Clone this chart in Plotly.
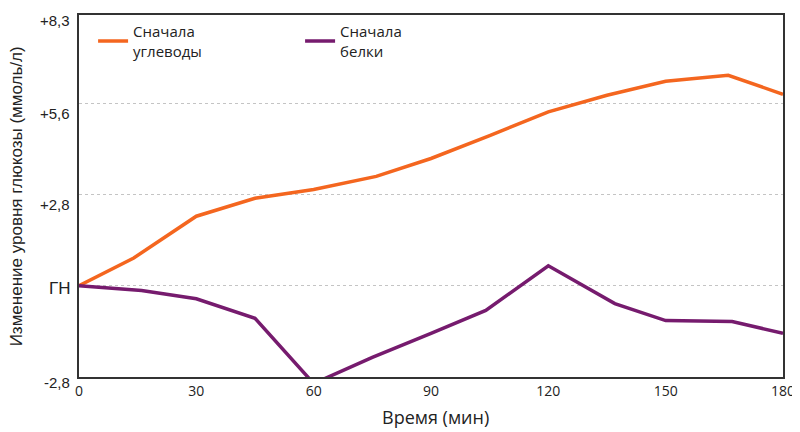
import plotly.graph_objects as go

# ---- data ----
carb_x = [0, 14, 30, 45, 60, 76, 90, 105, 120, 135, 150, 166, 180]
carb_y = [0, 0.85, 2.13, 2.68, 2.95, 3.35, 3.90, 4.60, 5.33, 5.84, 6.27, 6.45, 5.87]

prot_x = [0, 16, 30, 45, 60, 75, 90, 104, 120, 137, 150, 167, 180]
prot_y = [0, -0.15, -0.40, -1.00, -3.00, -2.20, -1.46, -0.76, 0.61, -0.55, -1.07, -1.10, -1.46]

series_names = ["Сначала<br>углеводы", "Сначала<br>белки"]
series_colors = ["#F4661F", "#761B6E"]

y_tick_vals = [-2.8, 0, 2.8, 5.6, 8.3]
y_tick_text = ["-2,8", "ГН", "+2,8", "+5,6", "+8,3"]
y_label_shift = [-5, -3, -10, -10, -5]
y_label_size = [15, 17, 15, 15, 15]

x_tick_vals = [0, 30, 60, 90, 120, 150, 180]

x_title = "Время (мин)"
y_title = "Изменение уровня глюкозы (ммоль/л)"

# page body has an 8px margin, so the figure is sized to fill the rest
FIG_W, FIG_H = 792, 424
M_L, M_R, M_T, M_B = 71, 13, 5, 55
plot_h = FIG_H - M_T - M_B

fig = go.Figure()
for xs, ys, name, col in [(carb_x, carb_y, series_names[0], series_colors[0]),
                          (prot_x, prot_y, series_names[1], series_colors[1])]:
    fig.add_trace(go.Scatter(x=xs, y=ys, mode="lines", name=name,
                             line=dict(color=col, width=3.5)))

annotations = []
for v, t, s, fs in zip(y_tick_vals, y_tick_text, y_label_shift, y_label_size):
    annotations.append(dict(x=0, xref="paper", y=v, yref="y", text=t, showarrow=False,
                            xanchor="right", yanchor="middle", xshift=-7, yshift=s,
                            font=dict(family="Liberation Sans, Arial", size=fs, color="#222")))
annotations.append(dict(x=-0.089, xref="paper", y=0.5, yref="paper", text=y_title,
                        textangle=-90, showarrow=False, xanchor="center", yanchor="middle",
                        font=dict(family="Liberation Sans, Arial", size=17, color="#222")))
annotations.append(dict(x=0.507, xref="paper", y=-40 / plot_h, yref="paper", text=x_title,
                        showarrow=False, xanchor="center", yanchor="middle",
                        font=dict(family="Open Sans", size=18, color="#222")))

fig.update_layout(
    width=FIG_W, height=FIG_H,
    margin=dict(l=M_L, r=M_R, t=M_T, b=M_B),
    paper_bgcolor="white", plot_bgcolor="white",
    showlegend=True,
    legend=dict(orientation="h", x=0.02, y=1.0, xanchor="left", yanchor="top",
                bgcolor="rgba(0,0,0,0)", font=dict(family="Open Sans", size=15, color="#222"),
                entrywidth=162, entrywidthmode="pixels", itemwidth=30),
    annotations=annotations,
    xaxis=dict(range=[0, 180], tickvals=x_tick_vals, showgrid=False, zeroline=False,
               showline=True, mirror=True, linecolor="#333", linewidth=1.5, ticks="",
               tickfont=dict(family="Open Sans", size=14, color="#222")),
    yaxis=dict(range=[-2.8, 8.3], tickvals=y_tick_vals, showticklabels=False,
               showgrid=True, gridcolor="#c4c4c4", griddash="dot", gridwidth=1,
               zeroline=False, showline=True, mirror=True, linecolor="#333", linewidth=1.5,
               ticks=""),
)

fig.write_html("out.html")
